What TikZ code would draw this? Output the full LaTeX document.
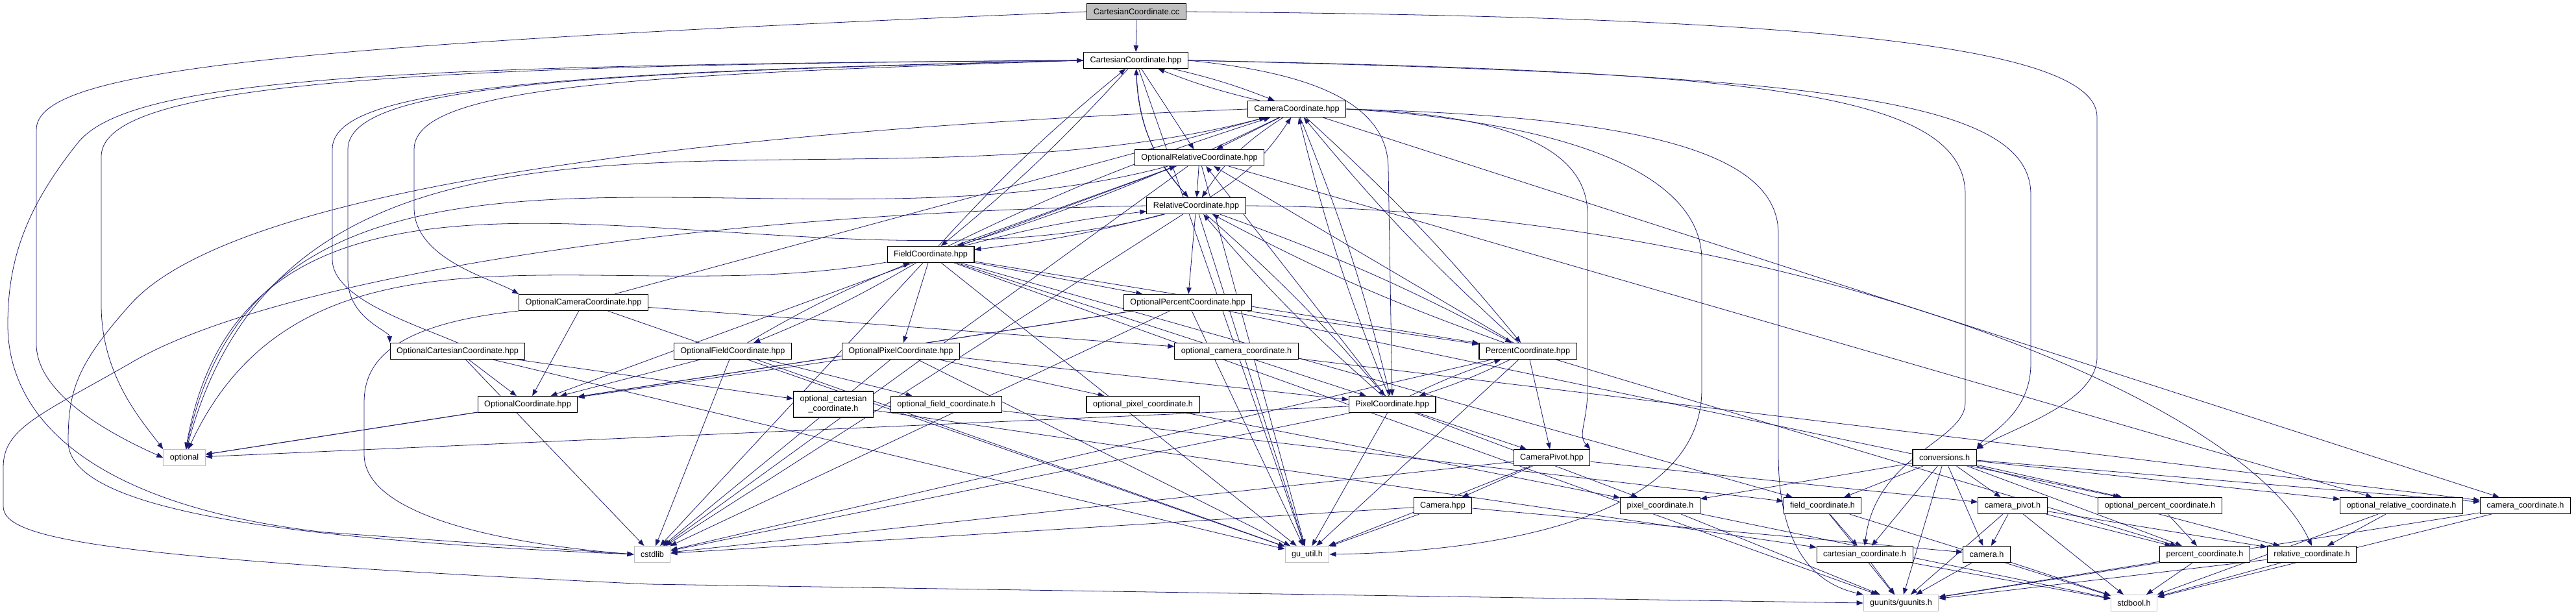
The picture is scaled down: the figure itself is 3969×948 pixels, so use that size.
\documentclass[tikz,border=0pt]{standalone}
\usepackage{fontspec}
\setmainfont{Liberation Sans}
\usetikzlibrary{arrows.meta,backgrounds}
\definecolor{incblue}{HTML}{191970}
\definecolor{sysgray}{HTML}{BFBFBF}
\newcommand\docfont{\fontsize{7.2}{8.6}\selectfont}
\tikzset{
  file/.style={draw=black, fill=white, font=\docfont, inner xsep=0.2cm,
    inner ysep=0pt, minimum height=0.5cm, line width=0.6pt},
  sysfile/.style={file, draw=sysgray},
  rootfile/.style={file, fill=sysgray},
  incl/.style={draw=incblue, line width=0.45pt,
    -{Triangle[length=0.2cm,width=0.15cm]}}
}
\begin{document}
\begin{tikzpicture}[x=0.02cm, y=-0.02cm]
\useasboundingbox (0,0) rectangle (3969,948);
% c++ headers
\node[rootfile] (cc) at (1751,18) {CartesianCoordinate.cc};
\node[file] (cart) at (1750,93) {CartesianCoordinate.hpp};
\node[file] (cam) at (1998,168) {CameraCoordinate.hpp};
\node[file] (optrel) at (1848,243) {OptionalRelativeCoordinate.hpp};
\node[file] (rel) at (1843,317) {RelativeCoordinate.hpp};
\node[file] (field) at (1434,392) {FieldCoordinate.hpp};
\node[file] (optcam) at (899,466) {OptionalCameraCoordinate.hpp};
\node[file] (optpct) at (1830,466) {OptionalPercentCoordinate.hpp};
\node[file] (optcart) at (705,541) {OptionalCartesianCoordinate.hpp};
\node[file] (optfield) at (1129,541) {OptionalFieldCoordinate.hpp};
\node[file] (optpix) at (1388,541) {OptionalPixelCoordinate.hpp};
\node[file] (pct) at (2354,541) {PercentCoordinate.hpp};
\node[file] (optc) at (813,623) {OptionalCoordinate.hpp};
\node[file] (pix) at (2145,623) {PixelCoordinate.hpp};
\node[file] (pivot) at (2391,705) {CameraPivot.hpp};
\node[file] (camera) at (2223,779) {Camera.hpp};
% c headers
\node[file] (optcamc) at (1905,541) {optional\_camera\_coordinate.h};
\node[file, align=center, minimum height=0.8cm] (optcartc) at (1284,623) {optional\_cartesian\\\_coordinate.h};
\node[file] (optfieldc) at (1458,623) {optional\_field\_coordinate.h};
\node[file] (optpixc) at (1761,623) {optional\_pixel\_coordinate.h};
\node[file] (conv) at (2996,705) {conversions.h};
\node[file] (pixc) at (2558,779) {pixel\_coordinate.h};
\node[file] (fieldc) at (2808,779) {field\_coordinate.h};
\node[file] (pivotc) at (3101,779) {camera\_pivot.h};
\node[file] (optpctc) at (3328,779) {optional\_percent\_coordinate.h};
\node[file] (optrelc) at (3700,779) {optional\_relative\_coordinate.h};
\node[file] (camc) at (3891,779) {camera\_coordinate.h};
\node[file] (cartc) at (2873,854) {cartesian\_coordinate.h};
\node[file] (camerac) at (3061,854) {camera.h};
\node[file] (pctc) at (3397,854) {percent\_coordinate.h};
\node[file] (relc) at (3562,854) {relative\_coordinate.h};
% system headers
\node[sysfile] (optional) at (284,705) {optional};
\node[sysfile] (cstdlib) at (1005,854) {cstdlib};
\node[sysfile] (guutil) at (2014,854) {gu\_util.h};
\node[sysfile] (guunits) at (2929,929) {guunits/guunits.h};
\node[sysfile] (stdbool) at (3288,929) {stdbool.h};

\begin{scope}[on background layer]
% plain includes
\foreach \a/\b in {cc/cart, cart/optrel, cam/optrel, optrel/rel, field/optrel,
    pct/optrel, pix/optrel, rel/optpct, field/optpct, field/optpix, field/pct,
    field/pix, field/fieldc, optcart/optc, optcart/optcartc, optcam/optc,
    optcam/optcamc, optcam/cam, optfield/optfieldc, optfield/optc,
    optpix/optpixc, optpix/optc, optpix/pix, optpct/optpctc, optpct/optc,
    optpct/pct, optrel/optrelc, optrel/optc, pct/pivot, pct/pctc, pix/pivot,
    pix/pixc, pivot/camera, pivot/pivotc, camera/camerac, optcartc/cartc,
    optfieldc/fieldc, optpixc/pixc, optcamc/camc, cam/camc}
  \draw[incl] (\a) -- (\b);
% system includes
\draw[incl] (cam) to[out=195, in=75] (optional);
\draw[incl] (optrel) to[out=195, in=78] (optional);
\draw[incl] (rel) to[out=195, in=80] (optional);
\draw[incl] (field) to[out=190, in=65] (optional);
\foreach \a in {optc, optpct, pix}
  \draw[incl] (\a) -- (optional);
\foreach \a in {optrel, rel, field, optcart, optfield, optpix, optpct, pct,
    pix, pivot, camera}
  \draw[incl] (\a) -- (cstdlib);
\foreach \a in {cart, optrel, rel, field, optcam, optcart, optfield, optpix,
    optpct, pct, pix, pivot, camera}
  \draw[incl] (\a) -- (guutil);
\foreach \a in {field, conv, pixc, fieldc, cartc, camerac, pctc, relc, camc,
    pivotc}
  \draw[incl] (\a) -- (guunits);
\foreach \a in {pixc, fieldc, cartc, pivotc, camerac, pctc, relc, camc, optrelc}
  \draw[incl] (\a) -- (stdbool);
% c headers
\foreach \b in {pixc, fieldc, cartc, pivotc, optpctc, optrelc, camc, pctc,
    relc, camerac}
  \draw[incl] (conv) -- (\b);
\foreach \a/\b in {fieldc/cartc, pivotc/camerac, pivotc/pctc, pivotc/relc,
    optpctc/pctc, optrelc/relc}
  \draw[incl] (\a) -- (\b);
% cycles
\foreach \a/\b in {cart/cam, cam/cart, cart/field, field/cart, cam/field,
    field/cam, rel/field, field/rel, pct/pix, pix/pct, optfield/field,
    field/optfield, rel/pct, pct/rel, rel/pix, pix/rel, cam/pix, pix/cam,
    cam/pct, pct/cam}
  \draw[incl] (\a) to[bend left=4] (\b);
\draw[incl] (cart) to[bend right=20] (rel);
\draw[incl] (rel) to[bend left=20] (cart);
\draw[incl] (cam) to[bend right=12] (rel);
\draw[incl] (rel) to[bend right=12] (cam);
% round the left
\draw[incl] (cc.west) .. controls (400,70) and (56,110) .. (56,200)
  -- (56,530) .. controls (56,600) and (150,660) .. (optional.west);
\draw[incl] (cart.west) .. controls (600,100) and (160,130) .. (156,240)
  -- (156,470) .. controls (156,580) and (220,650) .. (optional.north west);
\draw[incl] (cart.west) .. controls (600,100) and (200,120) .. (120,220)
  .. controls (40,320) and (12,400) .. (12,500)
  .. controls (12,650) and (150,780) .. (500,820) -- (cstdlib.west);
\draw[incl] (cam.west) .. controls (1000,205) and (350,300) .. (200,470)
  .. controls (120,560) and (105,600) .. (105,680)
  .. controls (105,780) and (400,830) .. (cstdlib.west);
\draw[incl] (rel.west) .. controls (1000,330) and (400,440) .. (200,560)
  .. controls (60,640) and (5,660) .. (5,720) -- (5,780)
  .. controls (5,830) and (150,860) .. (1000,900) -- (guunits.west);
\draw[incl] (cart.west) .. controls (1000,115) and (638,130) .. (638,230)
  -- (638,320) .. controls (638,400) and (760,430) .. (optcam.north west);
\draw[incl] (cart.west) .. controls (900,112) and (536,130) .. (536,230)
  -- (536,430) .. controls (536,490) and (600,510) .. (optcart.north west);
\draw[incl] (optcart.north) .. controls (640,500) and (512,460) .. (512,400)
  -- (512,230) .. controls (512,140) and (800,112) .. (cart.west);
\draw[incl] (optcam.south west) .. controls (600,500) and (561,560) .. (561,620)
  -- (561,700) .. controls (561,800) and (800,840) .. (cstdlib.west);
% round the right
\draw[incl] (cc.east) .. controls (2700,25) and (3231,60) .. (3231,180)
  -- (3231,550) .. controls (3231,620) and (3100,660) .. (conv.north east);
\draw[incl] (cart.east) .. controls (2800,115) and (3129,150) .. (3129,300)
  -- (3129,560) .. controls (3129,640) and (3060,670) .. (conv.north east);
\draw[incl] (cart.east) .. controls (2700,110) and (3028,140) .. (3028,300)
  -- (3028,620) .. controls (3028,680) and (2890,700) .. (cartc.north);
\draw[incl] (cart.east) .. controls (2000,110) and (2139,150) .. (2139,260)
  -- (pix.north);
\draw[incl] (cam.east) .. controls (2300,175) and (2446,220) .. (2446,330)
  -- (2446,600) .. controls (2446,650) and (2430,670) .. (pivot.north east);
\draw[incl] (cam.east) .. controls (2450,190) and (2622,280) .. (2622,400)
  -- (2622,600) .. controls (2622,800) and (2300,850) .. (guutil.east);
\draw[incl] (cam.east) .. controls (2550,180) and (2740,240) .. (2740,360)
  -- (2740,700) .. controls (2740,850) and (2800,900) .. (guunits.north west);
\draw[incl] (rel.east) .. controls (2700,320) and (3450,600) .. (relc.north);
\end{scope}
\end{tikzpicture}
\end{document}
